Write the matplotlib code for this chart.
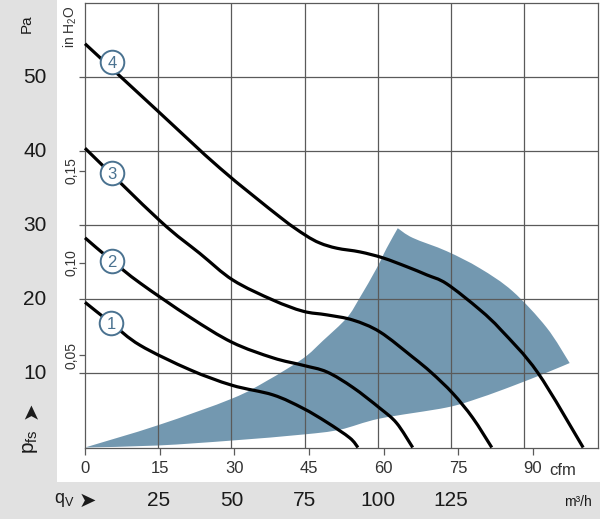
import matplotlib.pyplot as plt
import matplotlib.transforms as mtransforms
from matplotlib.patches import Rectangle, PathPatch
from matplotlib.path import Path
import numpy as np

plt.rcParams['font.family'] = ['Liberation Sans Narrow', 'Liberation Sans', 'DejaVu Sans']
plt.rcParams['mathtext.default'] = 'regular'

# Kennlinien, x in m3/h, y in Pa
c4_q = [0, 24.9, 46.1, 66.6, 75.1, 80.2, 86.0, 93.9, 101.7, 109.9, 116.7, 123.5, 134.8, 142.2, 154.6, 170.1]
c4_p = [54.5, 45.4, 37.7, 31.1, 28.7, 27.6, 26.9, 26.4, 25.6, 24.4, 23.3, 22.1, 18.6, 15.8, 10.1, 0.0]

c3_q = [0, 25.6, 39.2, 50.5, 64.2, 74.4, 82.6, 91.5, 100.7, 111.9, 118.3, 125.6, 132.4, 138.9]
c3_p = [40.4, 30.6, 26.2, 22.6, 19.9, 18.4, 17.9, 17.2, 15.6, 12.2, 10.1, 7.3, 4.0, 0.0]

c2_q = [0, 9.2, 18.8, 35.8, 50.2, 64.2, 74.4, 82.6, 91.5, 100.7, 106.4, 111.9]
c2_p = [28.3, 25.2, 22.2, 17.6, 14.2, 12.1, 11.1, 10.2, 8.1, 5.3, 3.3, 0.0]

c1_q = [0, 8.9, 18.8, 35.8, 50.2, 64.2, 74.4, 82.6, 90.4, 93.2]
c1_p = [19.6, 16.8, 13.8, 10.5, 8.4, 7.1, 5.3, 3.4, 1.3, 0.0]

curves = [(c1_q, c1_p), (c2_q, c2_p), (c3_q, c3_p), (c4_q, c4_p)]
curve_labels = ['1', '2', '3', '4']
label_q = [8.9, 9.2, 9.2, 9.2]
label_p = [16.8, 25.2, 37.0, 52.0]

# Arbeitsbereich: Unterkante, rechte Kante, linke Kante
area_bot_q = [0, 24.9, 50.2, 74.4, 87.0, 100.6, 123.5, 134.8, 146.0, 157.6, 165.5]
area_bot_p = [0, 0.27, 0.94, 1.75, 2.4, 3.9, 5.4, 6.7, 8.3, 10.1, 11.4]
area_right_q = [165.5, 157.6, 146.0, 134.8, 123.5, 111.9, 106.8]
area_right_p = [11.4, 16.2, 21.1, 24.2, 26.5, 28.3, 29.6]
area_left_q = [106.8, 103.0, 99.6, 93.8, 89.4, 81.2, 74.4, 62.1, 50.2, 24.9, 0]
area_left_p = [29.6, 26.9, 24.2, 20.2, 17.5, 14.4, 12.0, 9.0, 6.6, 3.0, 0]

grid_q = [25, 50, 75, 100, 125, 150]
grid_p = [10, 20, 30, 40, 50]
pa_labels = [10, 20, 30, 40, 50]
cfm_ticks = [0, 15, 30, 45, 60, 75, 90]
m3h_labels = [25, 50, 75, 100, 125]
inh2o_ticks = [0.05, 0.10, 0.15]
inh2o_text = ['0,05', '0,10', '0,15']

CFM = 1.699      # m3/h pro cfm
INH2O = 249.09   # Pa pro inH2O


def smooth(xs, ys, first=True):
    # Catmull-Rom -> Bezier, nur zum Zeichnen
    pts = np.column_stack([xs, ys]).astype(float)
    n = len(pts)
    verts, codes = [], []
    if first:
        verts.append(pts[0])
        codes.append(Path.MOVETO)
    for i in range(n - 1):
        p0 = pts[max(i - 1, 0)]
        p1 = pts[i]
        p2 = pts[i + 1]
        p3 = pts[min(i + 2, n - 1)]
        verts += [p1 + (p2 - p0) / 6, p2 - (p3 - p1) / 6, p2]
        codes += [Path.CURVE4] * 3
    return verts, codes


W, H = 600, 519
fig = plt.figure(figsize=(W / 100, H / 100), dpi=100)
fig.patch.set_facecolor('#e1e1e1')
fig.patches.append(Rectangle((57 / W, 1 - 482 / H), 1, 482 / H, transform=fig.transFigure,
                             facecolor='white', edgecolor='none', zorder=-1))

ax = fig.add_axes([85 / W, 1 - 447.5 / H, 512.5 / W, 444.5 / H])
ax.set_zorder(2)
ax.set_xlim(0, 175)
ax.set_ylim(0, 60)
ax.patch.set_alpha(0)

gc = '#5a5a5a'
for s in ax.spines.values():
    s.set_color(gc)
    s.set_linewidth(0.9)

# Flaeche
v1, k1 = smooth(area_bot_q, area_bot_p)
v2, k2 = smooth(area_right_q, area_right_p, first=False)
v3, k3 = smooth(area_left_q, area_left_p, first=False)
verts = v1 + v2 + v3 + [v1[0]]
codes = k1 + k2 + k3 + [Path.CLOSEPOLY]
ax.add_patch(PathPatch(Path(verts, codes), facecolor='#7398b0', edgecolor='none', zorder=1))

ax.vlines(grid_q, 0, 60, colors=gc, linewidth=0.9, zorder=2)
ax.hlines(grid_p, 0, 175, colors=gc, linewidth=0.9, zorder=2)

for (q, p) in curves:
    v, k = smooth(q, p)
    ax.add_patch(PathPatch(Path(v, k), facecolor='none', edgecolor='black', linewidth=2.3,
                           capstyle='butt', zorder=3, clip_on=False))

ring = '#4a7290'
for lab, q, p in zip(curve_labels, label_q, label_p):
    ax.plot(q, p, 'o', markersize=17, markerfacecolor='white', markeredgecolor=ring,
            markeredgewidth=1.4, zorder=4)
    ax.text(q, p - 0.2, lab, color=ring, fontsize=12, ha='center', va='center', zorder=5)

# x-Achse: cfm
ax.set_xticks([c * CFM for c in cfm_ticks], labels=[str(c) for c in cfm_ticks])
ax.tick_params(axis='x', direction='out', length=5, width=0.9, color=gc, pad=5,
               labelsize=12, labelcolor='#333333')
# y-Achse: Pa und inH2O Striche
ax.set_yticks(grid_p, labels=[])
ax.set_yticks([v * INH2O for v in inh2o_ticks], labels=[], minor=True)
ax.tick_params(axis='y', which='both', direction='out', length=4, width=0.9, color=gc)

ax.text(163, -3.05, 'cfm', fontsize=12, color='#333333', ha='center', va='center')

ty = mtransforms.blended_transform_factory(fig.transFigure, ax.transData)
for v in pa_labels:
    fig.text(35 / W, v, str(v), transform=ty, fontsize=15, ha='center', va='center',
             color='#1a1a1a')
for v, t in zip(inh2o_ticks, inh2o_text):
    fig.text(72 / W, v * INH2O, t, transform=ty, fontsize=10, rotation=90,
             ha='center', va='center', color='#333333')

tx = mtransforms.blended_transform_factory(ax.transData, fig.transFigure)
for v in m3h_labels:
    fig.text(v, 1 - 501 / H, str(v), transform=tx, fontsize=15, ha='center', va='center',
             color='#1a1a1a')

fig.text(578 / W, 1 - 502 / H, 'm³/h', fontsize=10, ha='center', va='center', color='#1a1a1a')
fig.text(27 / W, 1 - 24 / H, 'Pa', fontsize=11, rotation=90, ha='center', va='center',
         color='#1a1a1a')
fig.text(70 / W, 1 - 27 / H, 'in H$_2$O', fontsize=10, rotation=90, ha='center', va='center',
         color='#333333')
fig.text(31 / W, 1 - 442 / H, 'p$_{fs}$', fontsize=15, rotation=90, ha='center', va='center',
         color='#1a1a1a')
fig.text(31 / W, 1 - 410 / H, '➤', fontsize=15, rotation=90, ha='center', va='center',
         color='#1a1a1a', family='DejaVu Sans')
fig.text(64 / W, 1 - 500 / H, 'q$_V$', fontsize=13, ha='center', va='center', color='#1a1a1a')
fig.text(87 / W, 1 - 501 / H, '➤', fontsize=15, ha='center', va='center', color='#1a1a1a',
         family='DejaVu Sans')

fig.savefig('out.png', dpi=100, facecolor=fig.get_facecolor())
